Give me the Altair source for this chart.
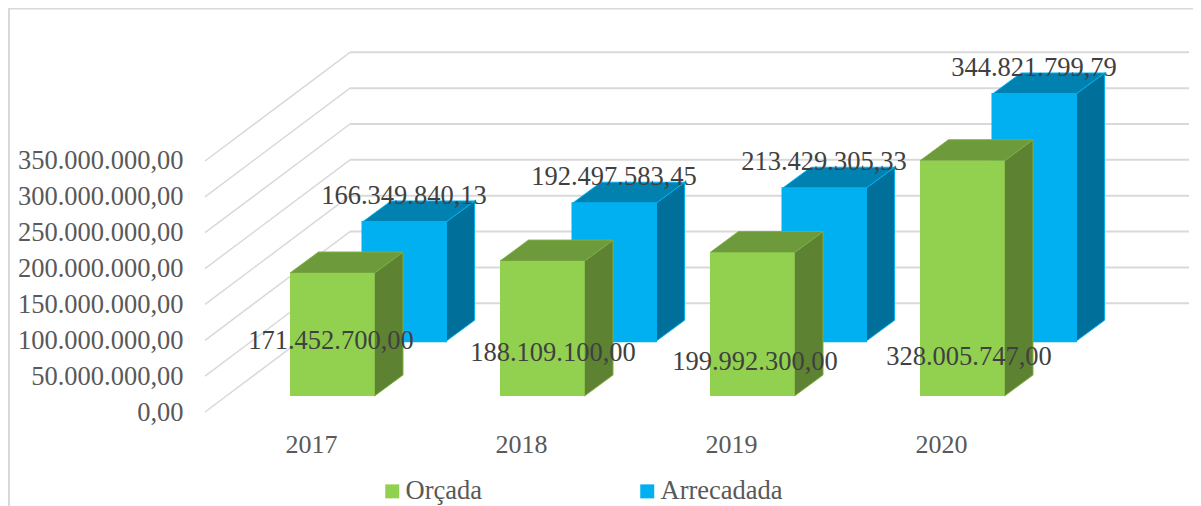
import altair as alt
import pandas as pd

# ---- data ----
years = [2017, 2018, 2019, 2020]
series_names = ["Orçada", "Arrecadada"]
orcada = [171452700.00, 188109100.00, 199992300.00, 328005747.00]
arrecadada = [166349840.13, 192497583.45, 213429305.33, 344821799.79]
ticks = [0, 50000000, 100000000, 150000000, 200000000, 250000000, 300000000, 350000000]

# ---- look ----
FONT = "Liberation Serif"
GRID = "#d9d9d9"
FACE = {"Orçada": "#92d050", "Arrecadada": "#00b0f0"}
TOPF = {"Orçada": "#6d9a3a", "Arrecadada": "#0081b0"}
SIDE = {"Orçada": "#5d8332", "Arrecadada": "#006f99"}
EDGE = {"Orçada": "#7fae45", "Arrecadada": "#00b0f0"}
FRONT_STROKE = {"Orçada": 0, "Arrecadada": 2}

# ---- pseudo-3D projection, in screen scale units ----
W, H = 1185, 498
ORIGIN_X, ORIGIN_Y = 311 - 8, 412 - 8   # where (2017, 0) falls inside the view
PX_PER_YEAR = 210.0
PX_PER_UNIT = 35.86 / 50000000.0


def dx(px):
    return px / PX_PER_YEAR


def dv(px):
    return px / PX_PER_UNIT


x_scale = alt.Scale(domain=[years[0] - dx(ORIGIN_X), years[0] + dx(W - ORIGIN_X)], nice=False, zero=False)
y_scale = alt.Scale(domain=[-dv(H - ORIGIN_Y), dv(ORIGIN_Y)], nice=False, zero=False)

BOX_LEFT = {"Orçada": -21.0, "Arrecadada": 51.5}
BOX_FLOOR = {"Orçada": 16.0, "Arrecadada": 70.7}
BOX_W = {"Orçada": 84.5, "Arrecadada": 83.5}
DEPTH_X, DEPTH_Y = 28.5, 21.0
WALL_X, WALL_Y = 145.0, 108.7


def X(f, **kw):
    return alt.X(f, scale=x_scale, title=None, **kw)


def Y(f, **kw):
    return alt.Y(f, scale=y_scale, title=None, stack=None, **kw)


def boxes(name, values):
    front, side, top = [], [], []
    for yr, v in zip(years, values):
        l = yr + dx(BOX_LEFT[name])
        r = l + dx(BOX_W[name])
        b = dv(BOX_FLOOR[name])
        t = b + v
        front.append(dict(serie=name, x=l, x2=r, y=b, y2=t))
        side.append(dict(g=yr, x=r, y=b, y2=t))
        side.append(dict(g=yr, x=r + dx(DEPTH_X), y=b + dv(DEPTH_Y), y2=t + dv(DEPTH_Y)))
        top.append(dict(g=yr, x=l, x2=r, y=t))
        top.append(dict(g=yr, x=l + dx(DEPTH_X), x2=r + dx(DEPTH_X), y=t + dv(DEPTH_Y)))
    return pd.DataFrame(front), pd.DataFrame(side), pd.DataFrame(top)


def box_layers(name, values):
    front, side, top = boxes(name, values)
    color = alt.Color(
        "serie:N",
        scale=alt.Scale(domain=series_names, range=[FACE[s] for s in series_names]),
        legend=alt.Legend(
            title=None, orient="none", legendX=371, legendY=470, direction="horizontal",
            symbolType="square", symbolSize=196, symbolStrokeWidth=0, labelFont=FONT,
            labelFontSize=26.5, labelColor="#595959", columnPadding=152, labelOffset=0,
        ),
    )
    return [
        alt.Chart(side).mark_area(color=SIDE[name], stroke=EDGE[name], strokeWidth=1, opacity=1).encode(
            X("x:Q"), Y("y:Q"), y2="y2:Q", detail="g:N"),
        alt.Chart(top).mark_area(color=TOPF[name], stroke=EDGE[name], strokeWidth=1, opacity=1, orient="horizontal").encode(
            X("x:Q", stack=None), x2="x2:Q", y=alt.Y("y:Q", scale=y_scale, title=None), detail="g:N"),
        alt.Chart(front).mark_rect(stroke=FACE[name], strokeWidth=FRONT_STROKE[name]).encode(
            X("x:Q"), x2="x2:Q", y=alt.Y("y:Q", scale=y_scale, title=None), y2="y2:Q", color=color),
    ]


# ---- walls ----
slanted = pd.DataFrame([dict(x=years[0] - dx(106), x2=years[0] - dx(106 - WALL_X), y=t, y2=t + dv(WALL_Y)) for t in ticks])
back = pd.DataFrame([dict(x=years[0] + dx(39), x2=years[0] + dx(39 + 839), y=t + dv(WALL_Y)) for t in ticks])

pt_expr = ("replace(replace(replace(format(datum.value,',.2f'),regexp(',','g'),'_'),'.',','),"
           "regexp('_','g'),'.')")

slant_layer = alt.Chart(slanted).mark_rule(color=GRID, strokeWidth=1.5).encode(
    x=alt.X("x:Q", scale=x_scale, title=None, axis=alt.Axis(
        orient="bottom", values=years, format="d", domain=False, ticks=False, grid=False,
        labelFont=FONT, labelFontSize=26, labelColor="#595959", labelPadding=0, offset=-75, labelOverlap=False)),
    x2="x2:Q",
    y=alt.Y("y:Q", scale=y_scale, title=None, axis=alt.Axis(
        orient="left", values=ticks, labelExpr=pt_expr, domain=False, ticks=False, grid=False,
        labelFont=FONT, labelFontSize=26.5, labelColor="#595959", labelPadding=0, offset=-175, labelOverlap=False)),
    y2="y2:Q",
)
back_layer = alt.Chart(back).mark_rule(color=GRID, strokeWidth=2).encode(
    X("x:Q"), x2="x2:Q", y=alt.Y("y:Q", scale=y_scale, title=None))

# ---- outer frame ----
frame = [
    alt.Chart(pd.DataFrame({"a": [0]})).mark_rule(color=GRID, strokeWidth=2).encode(
        x=alt.value(1), y=alt.value(0), y2=alt.value(H)),
    alt.Chart(pd.DataFrame({"a": [0]})).mark_rule(color=GRID, strokeWidth=2).encode(
        x=alt.value(1), x2=alt.value(W), y=alt.value(0.5)),
]


# ---- data labels (placed by hand in the source chart) ----
def pt(v):
    return f"{v:,.2f}".replace(",", "_").replace(".", ",").replace("_", ".")


ORC_LABEL_DX = [20, 32, 24, 28]
ORC_LABEL_UP = [71, 59, 50, 55]
rows = []
for i, yr in enumerate(years):
    rows.append(dict(x=yr + dx(ORC_LABEL_DX[i]), y=dv(ORC_LABEL_UP[i]), t=pt(orcada[i])))
    rows.append(dict(x=yr + dx(93.0), y=dv(BOX_FLOOR["Arrecadada"] + 26) + arrecadada[i], t=pt(arrecadada[i])))
labels = alt.Chart(pd.DataFrame(rows)).mark_text(
    font=FONT, fontSize=26.5, color="#404040", align="center", baseline="middle"
).encode(X("x:Q"), y=alt.Y("y:Q", scale=y_scale, title=None), text="t:N")

chart = alt.layer(
    *frame, slant_layer, back_layer,
    *box_layers("Arrecadada", arrecadada),
    *box_layers("Orçada", orcada),
    labels,
).properties(
    width=W, height=H, padding=0,
    autosize=alt.AutoSizeParams(type="none"),
).configure_view(stroke=None)

chart.save("out.html", embed_options={"renderer": "svg", "actions": False})
